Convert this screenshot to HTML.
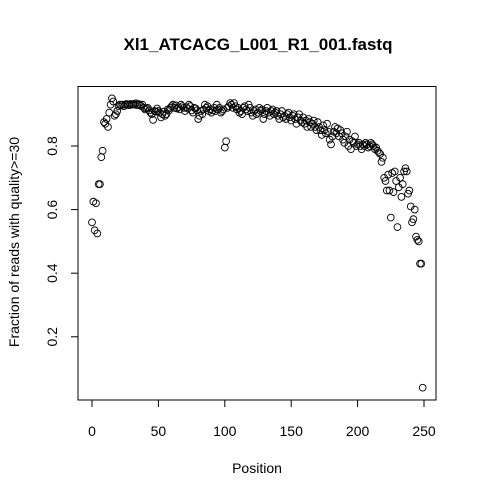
<!DOCTYPE html>
<html><head><meta charset="utf-8"><style>
body{margin:0;background:#fff}
svg text{font-family:"Liberation Sans",Arial,sans-serif;fill:#000}
</style></head><body>
<svg id="chart" width="478" height="498" xmlns="http://www.w3.org/2000/svg">
<text x="258" y="50" font-size="17" font-weight="bold" text-anchor="middle">Xl1_ATCACG_L001_R1_001.fastq</text>
<text x="257" y="473" font-size="14" text-anchor="middle">Position</text>
<text transform="translate(19,242) rotate(-90)" font-size="14" text-anchor="middle">Fraction of reads with quality&gt;=30</text>
<rect x="78" y="86.5" width="358" height="313.5" fill="none" stroke="#000" stroke-width="1"/>
<g id="axes"></g>
<g id="points"></g>
</svg>
<script>
const xTicks=[0,50,100,150,200,250];
const yTicks=[0.2,0.4,0.6,0.8];
const yTickLabels=["0.2","0.4","0.6","0.8"];
const quality=[
.56,.625,.535,.62,.525,.68,.68,.765,.785,.875,
.87,.885,.86,.905,.93,.95,.94,.895,.9,.91,
.925,.93,.928,.93,.925,.93,.932,.93,.928,.932,
.93,.932,.93,.934,.928,.932,.93,.926,.93,.92,
.915,.918,.92,.912,.905,.9,.882,.91,.908,.918,
.91,.905,.89,.9,.908,.895,.9,.915,.912,.92,
.925,.93,.92,.928,.918,.922,.915,.93,.925,.92,
.91,.922,.918,.93,.925,.912,.905,.92,.918,.912,
.885,.895,.91,.9,.915,.93,.92,.925,.91,.915,
.905,.912,.92,.91,.93,.915,.92,.905,.91,.915,
.795,.815,.92,.925,.935,.93,.92,.935,.925,.915,
.92,.905,.91,.9,.92,.925,.915,.91,.93,.92,
.905,.895,.91,.915,.9,.905,.92,.91,.915,.885,
.9,.91,.92,.905,.895,.91,.915,.9,.905,.91,
.895,.885,.9,.91,.89,.895,.885,.9,.905,.89,
.88,.895,.9,.885,.87,.89,.9,.88,.875,.89,
.87,.88,.86,.885,.875,.86,.87,.88,.86,.85,
.875,.86,.85,.835,.865,.85,.84,.87,.845,.82,
.805,.83,.845,.86,.84,.855,.83,.85,.84,.82,
.81,.83,.845,.8,.82,.79,.815,.81,.83,.8,
.805,.81,.8,.79,.805,.8,.81,.805,.795,.8,
.81,.805,.8,.79,.795,.785,.78,.775,.75,.763,
.7,.69,.66,.71,.66,.575,.715,.655,.72,.69,
.545,.67,.7,.64,.68,.72,.73,.72,.65,.66,
.61,.56,.57,.6,.515,.505,.5,.43,.43,.04];
const NS="http://www.w3.org/2000/svg";
function xs(v){return 92+v*1.328;}
function ys(v){return 146+(0.8-v)*318;}
const ax=document.getElementById('axes');
const pg=document.getElementById('points');
function mk(t,a,p){const e=document.createElementNS(NS,t);for(const k in a)e.setAttribute(k,a[k]);p.appendChild(e);return e;}
mk('line',{x1:xs(xTicks[0]),x2:xs(xTicks[xTicks.length-1]),y1:400,y2:400,stroke:'#000'},ax);
xTicks.forEach(t=>{
 const l=mk('line',{x1:xs(t),x2:xs(t),y1:400,y2:407,stroke:'#000'},ax);
 
 
 const tx=mk('text',{x:xs(t),y:436,'font-size':14,'text-anchor':'middle'},ax);
 tx.textContent=t;
 
 
});
yTicks.forEach((t,i)=>{
 const l=mk('line',{x1:71,x2:78,y1:ys(t),y2:ys(t),stroke:'#000'},ax);
 
 
 const tx=mk('text',{transform:`translate(57,${ys(t)}) rotate(-90)`,'font-size':14,'text-anchor':'middle'},ax);
 tx.textContent=yTickLabels[i];
 
 
});
quality.forEach((v,i)=>{
 const c=mk('circle',{cx:xs(i),cy:ys(v),r:3.4,fill:'none',stroke:'#000','stroke-width':0.9},pg);
 
 
});
</script>
</body></html>
